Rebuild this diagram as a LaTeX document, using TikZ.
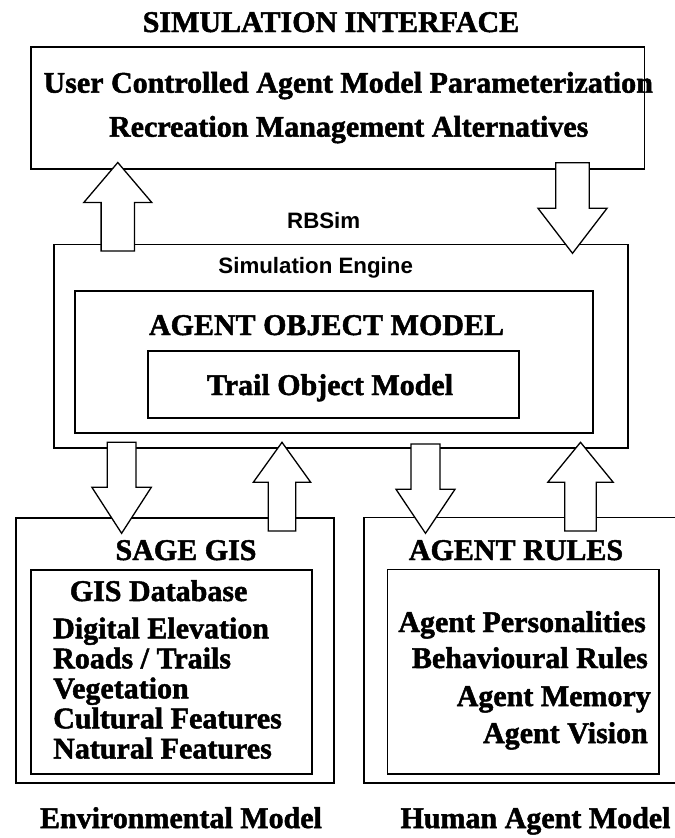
\documentclass[tikz,border=0pt]{standalone}
\usepackage{fontspec}
\setmainfont{Liberation Serif}[BoldFeatures={FakeBold=1.6}]
\newfontfamily\sansf{Liberation Sans}
\begin{document}
\begin{tikzpicture}[x=1bp,y=-1bp,
  box/.style={draw=black,line width=1.8bp,inner sep=0pt,outer sep=0pt},
  ser/.style={font=\fontsize{30bp}{30bp}\selectfont\bfseries,inner sep=0pt},
  san/.style={font=\sansf\fontsize{22.3bp}{22.3bp}\selectfont\bfseries,inner sep=0pt},
  blockarrow/.style={draw=black,fill=white,line width=1.3bp,line join=miter}]
\useasboundingbox (0,0) rectangle (675,838);
\clip (0,0) rectangle (675,838);
\fill[white] (0,0) rectangle (675,838);
% boxes
\node[box,minimum width=613bp,minimum height=122.3bp] (top) at (337.9,107.85) {};
\node[box,minimum width=574.5bp,minimum height=203.8bp] (sim) at (341,346.4) {};
\node[box,minimum width=518bp,minimum height=142.6bp] (aom) at (334.3,362) {};
\node[box,minimum width=371bp,minimum height=67.3bp] (trail) at (333.2,384.65) {};
\node[box,minimum width=317.2bp,minimum height=265bp] (sage) at (175,650.2) {};
\node[box,minimum width=280.7bp,minimum height=204bp] (gisin) at (171.75,672) {};
\node[box,minimum width=336.2bp,minimum height=265.2bp] (rules) at (531.9,650.1) {};
\node[box,minimum width=271.6bp,minimum height=204.5bp] (rulesin) at (523.2,671.75) {};
% block arrows (tip y, head-base y, tail y, head half-width, shaft half-width)
\newcommand{\blockarr}[6]{\draw[blockarrow] (#1,#2) -- ({#1+#5},#3) -- ({#1+#6},#3) -- ({#1+#6},#4) -- ({#1-#6},#4) -- ({#1-#6},#3) -- ({#1-#5},#3) -- cycle;}
\blockarr{117.8}{162.5}{202.5}{251}{34}{16.7}
\blockarr{572.5}{253.3}{208.3}{162.7}{34.5}{16.8}
\blockarr{121.6}{533.3}{487.3}{442.3}{29.7}{14.4}
\blockarr{282}{442.3}{482.3}{531}{28.7}{13.8}
\blockarr{425.5}{533.3}{489.3}{444}{29.5}{14.5}
\blockarr{580.5}{442.3}{482.3}{531}{32.7}{15.8}
% texts
\node[ser,anchor=base] (t1) at (331,32) {SIMULATION INTERFACE};
\node[ser,anchor=base] (t2) at (348.2,92.7) {User Controlled Agent Model Parameterization};
\node[ser,anchor=base] (t3) at (348.7,136.7) {Recreation Management Alternatives};
\node[san,anchor=base] (t4) at (323.7,228.3) {RBSim};
\node[san,anchor=base] (t5) at (315.7,273.3) {Simulation Engine};
\node[ser,anchor=base] (t6) at (326.5,335) {AGENT OBJECT MODEL};
\node[ser,anchor=base] (t7) at (330,395) {Trail Object Model};
\node[ser,anchor=base] (t8) at (186,560) {SAGE GIS};
\node[ser,anchor=base] (t9) at (516,560) {AGENT RULES};
\node[ser,anchor=base] (g0) at (158.6,601) {GIS Database};
\node[ser,anchor=base west] (g1) at (53,638.3) {Digital Elevation};
\node[ser,anchor=base west] (g2) at (53,668.3) {Roads / Trails};
\node[ser,anchor=base west] (g3) at (53,698.3) {Vegetation};
\node[ser,anchor=base west] (g4) at (53,728.3) {Cultural Features};
\node[ser,anchor=base west] (g5) at (53,758.5) {Natural Features};
\node[ser,anchor=base east] (r1) at (646,632) {Agent Personalities};
\node[ser,anchor=base east] (r2) at (648,668) {Behavioural Rules};
\node[ser,anchor=base east] (r3) at (651,706) {Agent Memory};
\node[ser,anchor=base east] (r4) at (648,743) {Agent Vision};
\node[ser,anchor=base] (m1) at (181,828) {Environmental Model};
\node[ser,anchor=base west] (m2) at (400.3,828) {Human Agent Model};
\end{tikzpicture}
\end{document}
